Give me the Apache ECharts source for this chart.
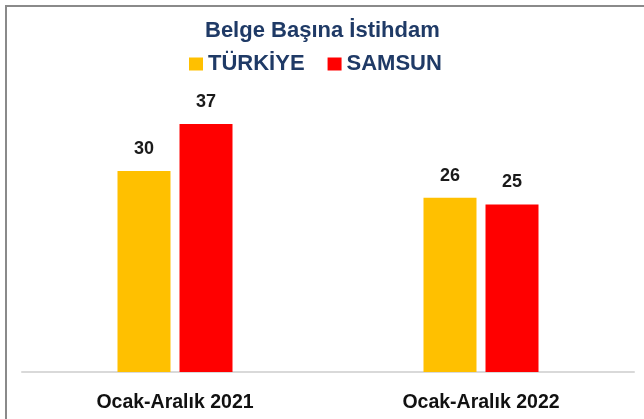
<!DOCTYPE html>
<html>
<head>
<meta charset="utf-8">
<script src="https://cdn.jsdelivr.net/npm/echarts@6/dist/echarts.min.js"></script>
<style>
  html, body { margin: 0; padding: 0; background: #fff; }
  #chart { width: 644px; height: 419px; }
</style>
</head>
<body>
<div id="chart"></div>
<script>
const categories = ['Ocak-Aralık 2021', 'Ocak-Aralık 2022']
const seriesNames = ['TÜRKİYE', 'SAMSUN']
const turkiyeValues = [30, 26]
const samsunValues = [37, 25]

const font = '"Liberation Sans", Arial, sans-serif'
const navy = '#1F3A66'

const chart = echarts.init(document.getElementById('chart'))

const option = {
  animation: false,
  backgroundColor: '#fff',
  title: {
    text: 'Belge Başına İstihdam',
    left: 200,
    top: 15,
    textStyle: {
      fontFamily: font,
      fontSize: 22,
      fontWeight: 'bold',
      color: navy
    }
  },
  legend: {
    data: seriesNames,
    left: 184,
    top: 48,
    icon: 'rect',
    itemWidth: 14,
    itemHeight: 13,
    itemGap: 23,
    textStyle: {
      fontFamily: font,
      fontSize: 22,
      fontWeight: 'bold',
      color: navy
    }
  },
  graphic: [
    {
      type: 'rect',
      silent: true,
      shape: { x: 6, y: 6, width: 700, height: 500 },
      style: { fill: 'none', stroke: '#8a8a8a', lineWidth: 2 }
    }
  ],
  grid: {
    left: 22,
    right: 10,
    top: 104,
    bottom: 47
  },
  xAxis: {
    type: 'category',
    data: categories,
    axisLine: { lineStyle: { color: '#d9d9d9', width: 2 } },
    axisTick: { show: false },
    axisLabel: {
      fontFamily: font,
      fontSize: 19.5,
      fontWeight: 'bold',
      color: '#111',
      margin: 21
    }
  },
  yAxis: {
    type: 'value',
    min: 0,
    max: 40,
    show: false
  },
  series: [
    {
      name: seriesNames[0],
      type: 'bar',
      data: turkiyeValues,
      barWidth: 53,
      barGap: '17%',
      itemStyle: { color: '#FFC000' },
      label: {
        show: true,
        position: 'top',
        distance: 13,
        fontFamily: font,
        fontSize: 18,
        fontWeight: 'bold',
        color: '#1a1a1a'
      }
    },
    {
      name: seriesNames[1],
      type: 'bar',
      data: samsunValues,
      barWidth: 53,
      barGap: '17%',
      itemStyle: { color: '#FF0000' },
      label: {
        show: true,
        position: 'top',
        distance: 13,
        fontFamily: font,
        fontSize: 18,
        fontWeight: 'bold',
        color: '#1a1a1a'
      }
    }
  ]
}

chart.setOption(option)
</script>
</body>
</html>
